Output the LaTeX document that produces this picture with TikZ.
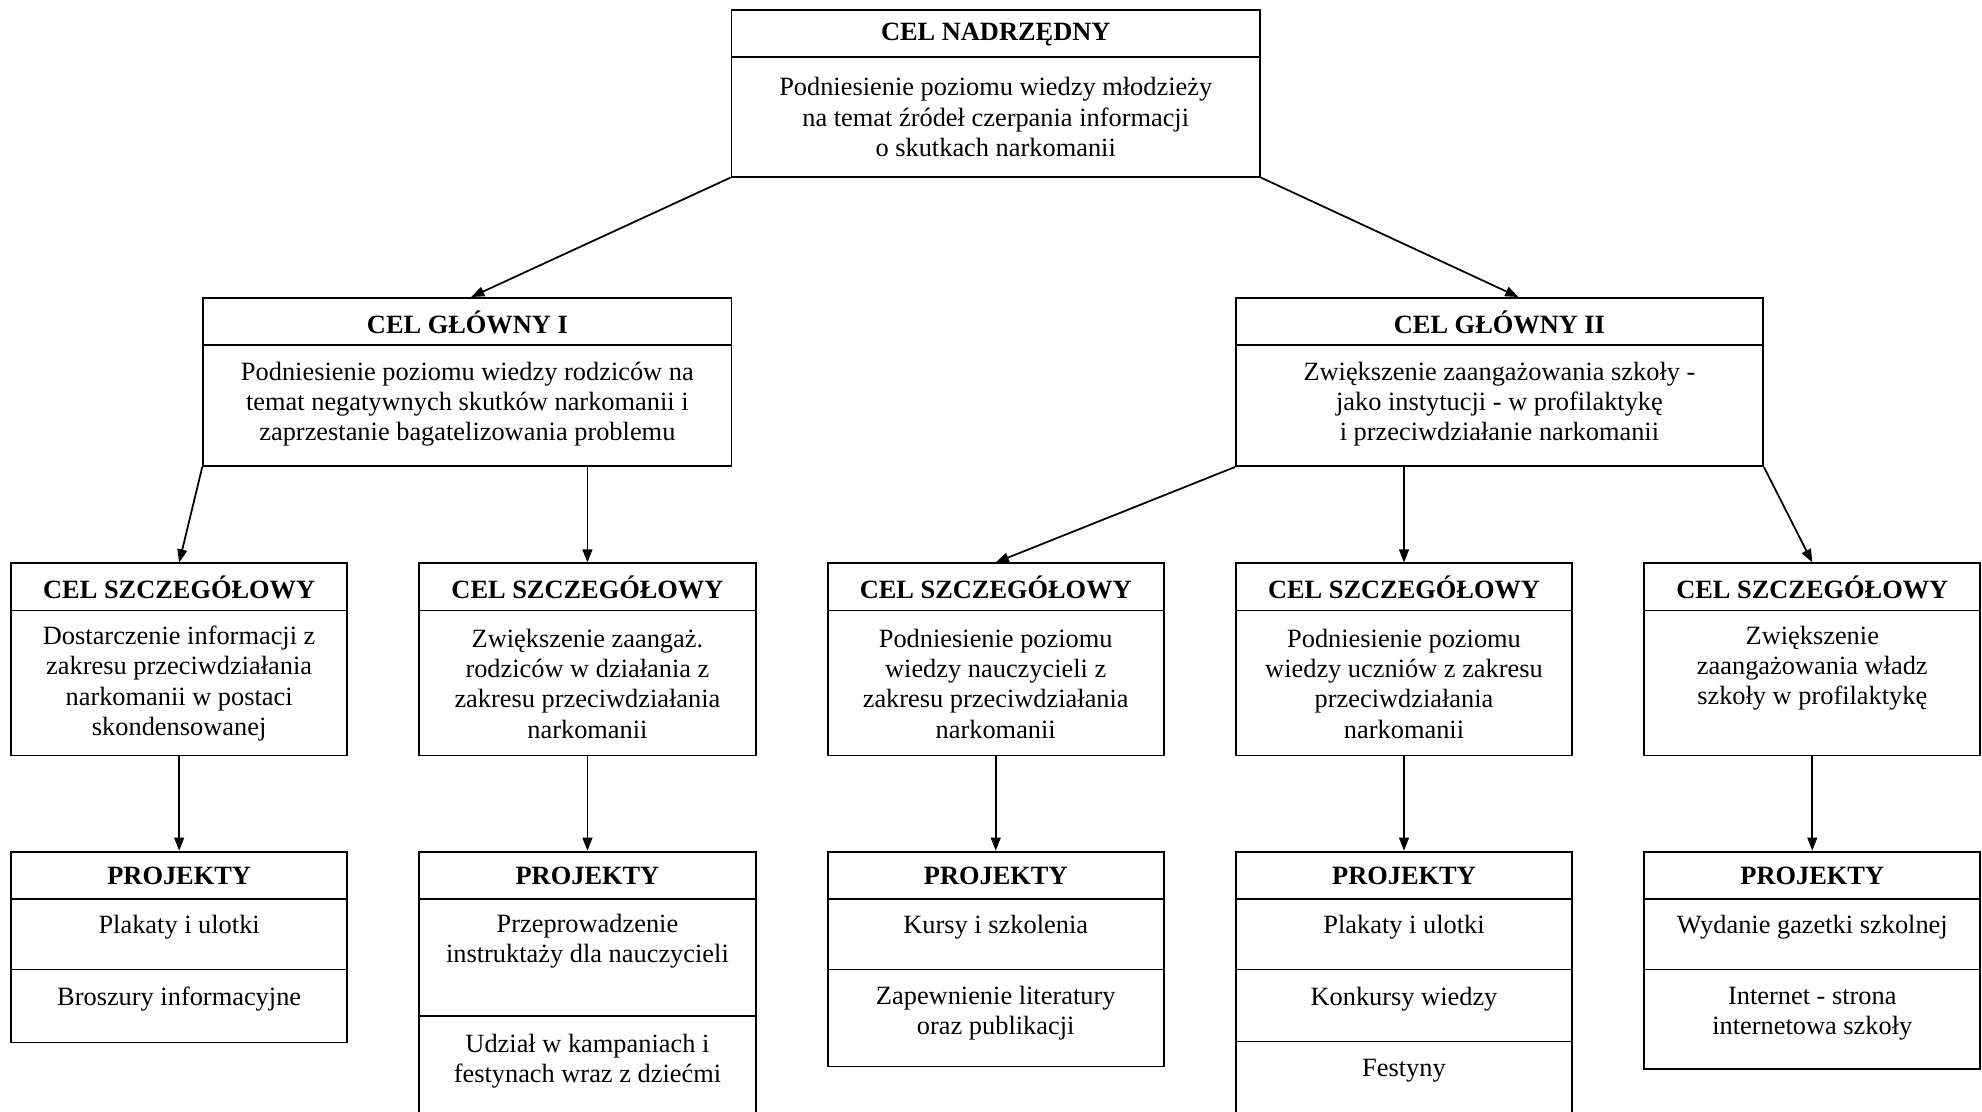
\documentclass[tikz,border=0pt]{standalone}
\usepackage{fontspec}
\setmainfont{Liberation Serif}
\usetikzlibrary{arrows.meta,calc}
\def\pxu{0.575}
\begin{document}
\begin{tikzpicture}[x=0.575pt,y=-0.575pt,
  box/.style={draw, line width=0.85pt, inner sep=0pt, anchor=north west},
  ttl/.style={font=\fontsize{12}{13.8}\selectfont\bfseries, inner sep=0pt},
  txt/.style={align=center, inner sep=0pt, yshift=-1pt, font=\fontsize{12}{13.8}\selectfont},
  div/.style={line width=0.85pt},
  arr/.style={line width=0.8pt, -{Triangle[length=6pt,width=4.5pt]}}]
\useasboundingbox (0,0) rectangle (1568,879);
\clip (0,0) rectangle (1568,879);
% boxes
\node[box, minimum width=418*\pxu pt, minimum height=132*\pxu pt] (top) at (578,7) {};
\node[box, minimum width=418*\pxu pt, minimum height=133*\pxu pt] (g1) at (160,235) {};
\node[box, minimum width=417*\pxu pt, minimum height=133*\pxu pt] (g2) at (977,235) {};
\foreach \i/\x in {1/8,2/331,3/654,4/977,5/1300}{
  \node[box, minimum width=266*\pxu pt, minimum height=152*\pxu pt] (s\i) at (\x,445) {};
}
\node[box, minimum width=266*\pxu pt, minimum height=151*\pxu pt] (p1) at (8,673) {};
\node[box, minimum width=266*\pxu pt, minimum height=240*\pxu pt] (p2) at (331,673) {};
\node[box, minimum width=266*\pxu pt, minimum height=170*\pxu pt] (p3) at (654,673) {};
\node[box, minimum width=266*\pxu pt, minimum height=240*\pxu pt] (p4) at (977,673) {};
\node[box, minimum width=266*\pxu pt, minimum height=172*\pxu pt] (p5) at (1300,673) {};
% dividers
\draw[div] (top.west |- 0,45) -- (top.east |- 0,45);
\draw[div] (g1.west |- 0,273) -- (g1.east |- 0,273);
\draw[div] (g2.west |- 0,273) -- (g2.east |- 0,273);
\foreach \i in {1,...,5}{
  \draw[div] (s\i.west |- 0,483) -- (s\i.east |- 0,483);
  \draw[div] (p\i.west |- 0,711) -- (p\i.east |- 0,711);
}
\draw[div] (p1.west |- 0,767) -- (p1.east |- 0,767);
\draw[div] (p2.west |- 0,804) -- (p2.east |- 0,804);
\draw[div] (p3.west |- 0,767) -- (p3.east |- 0,767);
\draw[div] (p4.west |- 0,767) -- (p4.east |- 0,767);
\draw[div] (p4.west |- 0,824) -- (p4.east |- 0,824);
\draw[div] (p5.west |- 0,767) -- (p5.east |- 0,767);
% titles
\node[ttl] (topt) at (top.north |- 0,27) {CEL NADRZĘDNY};
\node[ttl] (g1t) at (g1.north |- 0,255) {CEL GŁÓWNY I};
\node[ttl] (g2t) at (g2.north |- 0,255) {CEL GŁÓWNY II};
\foreach \i in {1,...,5}{
  \node[ttl] (s\i t) at (s\i.north |- 0,465) {CEL SZCZEGÓŁOWY};
  \node[ttl] (p\i t) at (p\i.north |- 0,693) {PROJEKTY};
}
% body texts
\node[txt] (topb) at (top.north |- 0,91) {Podniesienie poziomu wiedzy młodzieży\\na temat źródeł czerpania informacji\\o skutkach narkomanii};
\node[txt] (g1b) at (g1.north |- 0,318) {Podniesienie poziomu wiedzy rodziców na\\temat negatywnych skutków narkomanii i\\zaprzestanie bagatelizowania problemu};
\node[txt] (g2b) at (g2.north |- 0,318) {Zwiększenie zaangażowania szkoły -\\jako instytucji - w profilaktykę\\i przeciwdziałanie narkomanii};
\node[txt] (s1b) at (s1.north |- 0,539) {Dostarczenie informacji z\\zakresu przeciwdziałania\\narkomanii w postaci\\skondensowanej};
\node[txt] (s2b) at (s2.north |- 0,539) {Zwiększenie zaangaż.\\rodziców w działania z\\zakresu przeciwdziałania\\narkomanii};
\node[txt] (s3b) at (s3.north |- 0,539) {Podniesienie poziomu\\wiedzy nauczycieli z\\zakresu przeciwdziałania\\narkomanii};
\node[txt] (s4b) at (s4.north |- 0,539) {Podniesienie poziomu\\wiedzy uczniów z zakresu\\przeciwdziałania\\narkomanii};
\node[txt] (s5b) at (s5.north |- 0,527) {Zwiększenie\\zaangażowania władz\\szkoły w profilaktykę};
% project items
\node[txt] (p1a) at (p1.north |- 0,732) {Plakaty i ulotki};
\node[txt] (p1b) at (p1.north |- 0,789) {Broszury informacyjne};
\node[txt] (p2a) at (p2.north |- 0,743) {Przeprowadzenie\\instruktaży dla nauczycieli};
\node[txt] (p2b) at (p2.north |- 0,838) {Udział w kampaniach i\\festynach wraz z dziećmi};
\node[txt] (p3a) at (p3.north |- 0,732) {Kursy i szkolenia};
\node[txt] (p3b) at (p3.north |- 0,800) {Zapewnienie literatury\\oraz publikacji};
\node[txt] (p4a) at (p4.north |- 0,732) {Plakaty i ulotki};
\node[txt] (p4b) at (p4.north |- 0,789) {Konkursy wiedzy};
\node[txt] (p4c) at (p4.north |- 0,845) {Festyny};
\node[txt] (p5a) at (p5.north |- 0,732) {Wydanie gazetki szkolnej};
\node[txt] (p5b) at (p5.north |- 0,800) {Internet - strona\\internetowa szkoły};
% connectors
\coordinate (g1in) at ($(g1.north)+(3,0)$);
\coordinate (g2in) at ($(g2.north)+(15,0)$);
\draw[arr] (top.south west) -- (g1in);
\draw[arr] (top.south east) -- (g2in);
\draw[arr] (g1.south west) -- (s1.north);
\draw[arr] (g1.south -| s2.north) -- (s2.north);
\draw[arr] (g2.south west) -- (s3.north);
\draw[arr] (g2.south -| s4.north) -- (s4.north);
\draw[arr] (g2.south east) -- (s5.north);
\foreach \i in {1,...,5}{
  \draw[arr] (s\i.south) -- (p\i.north);
}
\end{tikzpicture}
\end{document}
